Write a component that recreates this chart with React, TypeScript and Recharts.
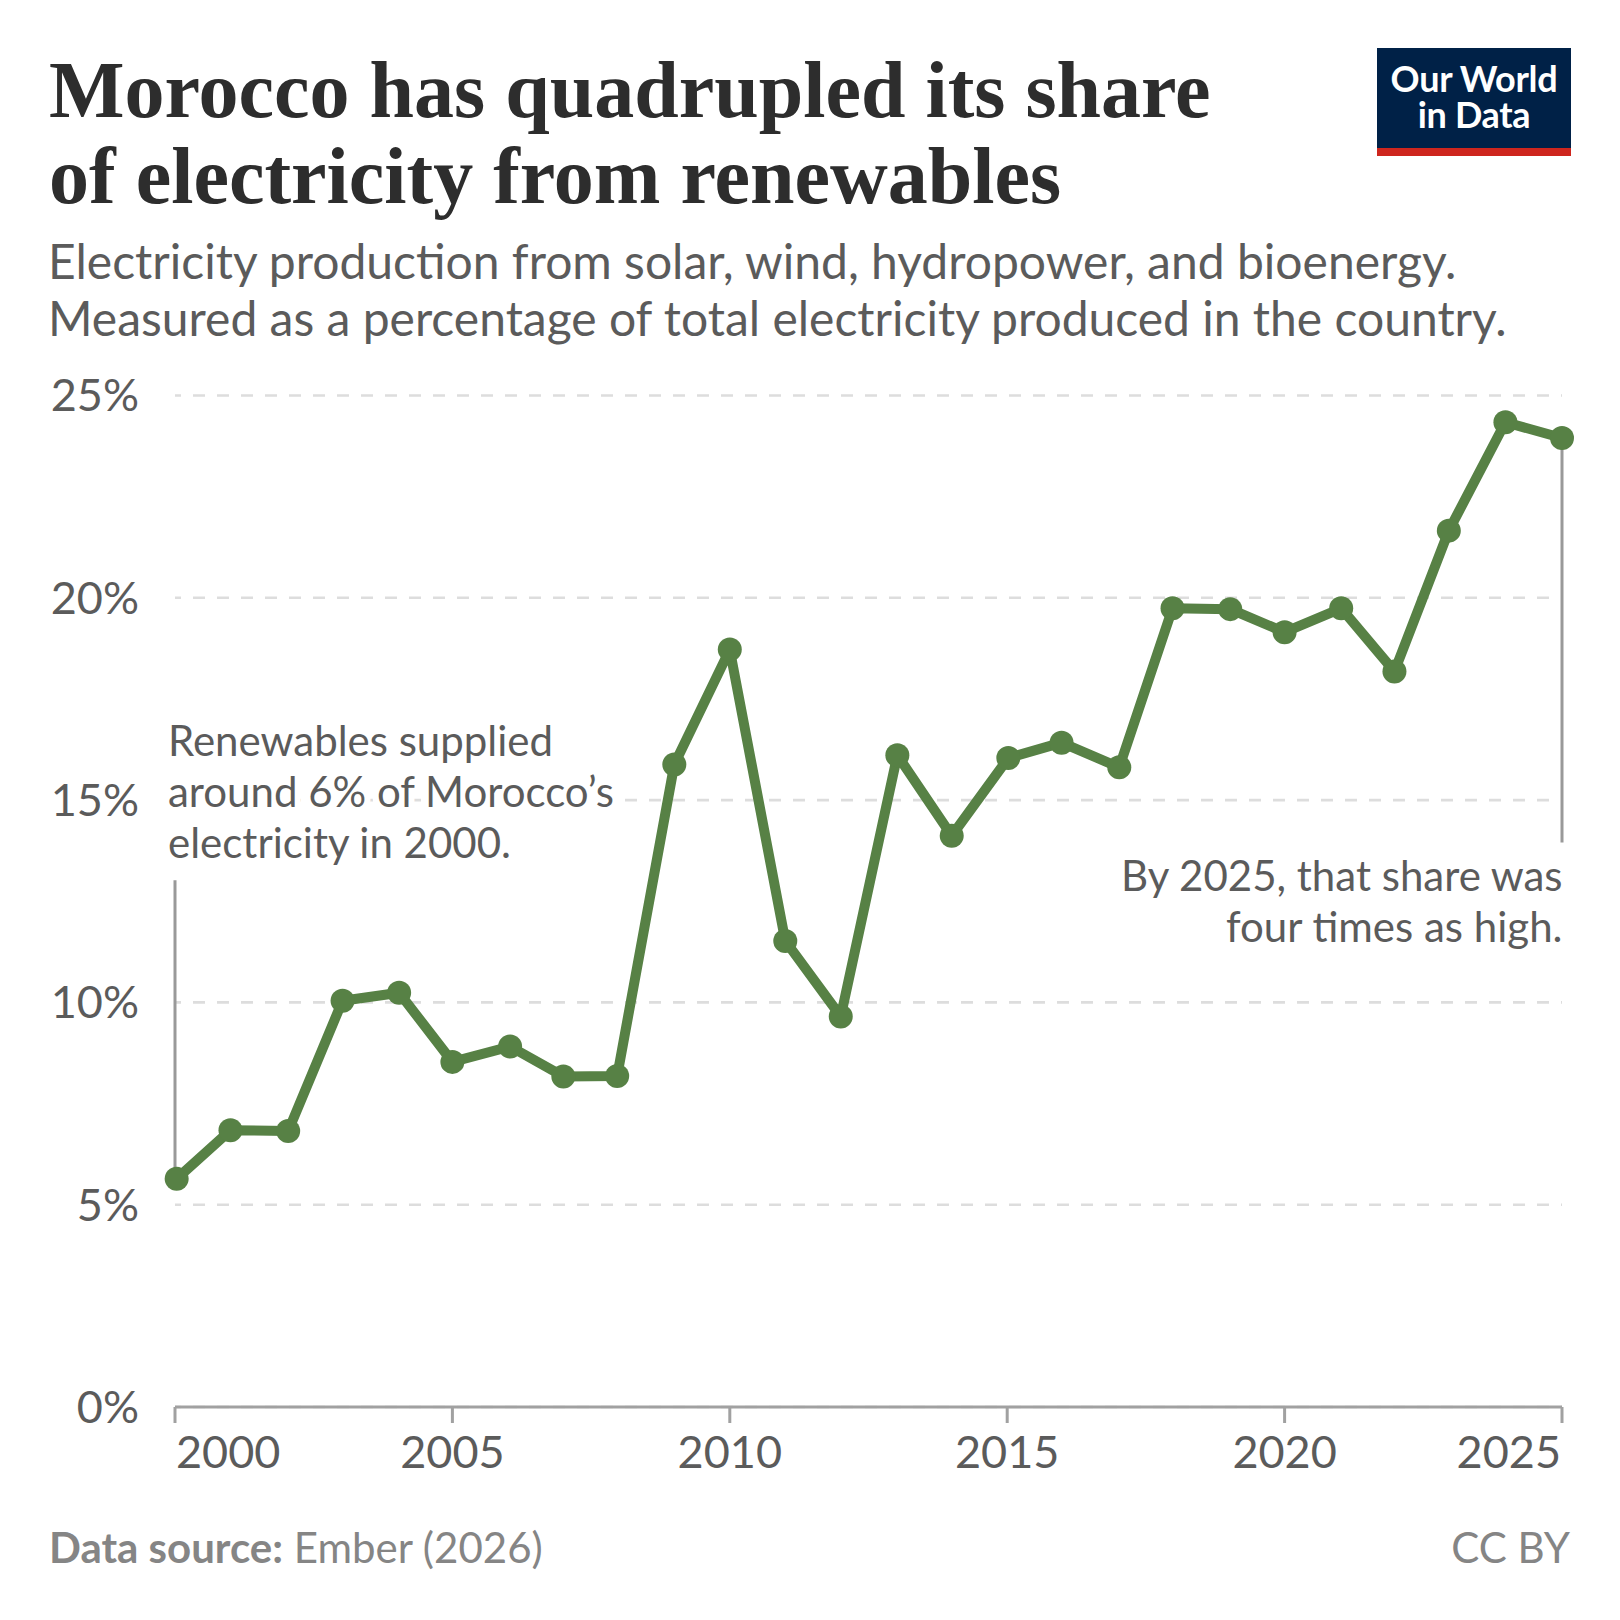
import { LineChart, Line, XAxis, YAxis, CartesianGrid, ReferenceLine } from "recharts";

// dots sit slightly off the whole years in the original, dates are not evenly spaced
const years = [
  2000.03, 2001, 2002.04, 2003.02, 2004.04, 2005, 2006.04, 2007, 2007.97, 2009, 2010, 2011, 2012,
  2013.02, 2014, 2015.02, 2015.98, 2017.02, 2017.98, 2019.02, 2020, 2021.02, 2021.98, 2022.96, 2023.98, 2025,
];
const shares = [
  5.64, 6.84, 6.82, 10.04, 10.24, 8.53, 8.91, 8.17, 8.18, 15.88, 18.72, 11.52, 9.65,
  16.11, 14.12, 16.04, 16.42, 15.81, 19.74, 19.72, 19.15, 19.74, 18.18, 21.66, 24.34, 23.95,
];
const yearTicks = [2000, 2005, 2010, 2015, 2020, 2025];
const shareTicks = [0, 5, 10, 15, 20, 25];
const titleLines = ["Morocco has quadrupled its share", "of electricity from renewables"];
const subtitleLines = [
  "Electricity production from solar, wind, hydropower, and bioenergy.",
  "Measured as a percentage of total electricity produced in the country.",
];
const leftNote = ["Renewables supplied", "around 6% of Morocco’s", "electricity in 2000."];
const rightNote = ["By 2025, that share was", "four times as high."];

const rows = years.map((year, i) => ({ year, share: shares[i] }));

const SANS = "Lato, sans-serif";
const SERIF = "'Liberation Serif', serif";
const GREEN = "#578145";
const TEXT = "#5b5b5b";

// first and last year labels sit inside the axis ends, like OWID does it
function YearTick({ x, payload }: any) {
  const v = payload.value;
  const anchor = v === 2000 ? "start" : v === 2025 ? "end" : "middle";
  const dx = v === 2000 ? 1 : v === 2025 ? -1 : 0;
  return (
    <text x={x + dx} y={1468} textAnchor={anchor} fontFamily={SANS} fontSize={45} fill={TEXT}>
      {v}
    </text>
  );
}

// white halo knocks the gridlines out behind the annotations
const noteStyle = { paintOrder: "stroke" as const, stroke: "#fff", strokeWidth: 12, strokeLinejoin: "round" as const };

export default function App() {
  return (
    <div style={{ position: "absolute", left: 0, top: 0, width: 1620, height: 1620, background: "#fff" }}>
      <LineChart
        width={1620}
        height={1620}
        data={rows}
        margin={{ top: 395.5, right: 58, bottom: 0, left: 0 }}
      >
        <CartesianGrid
          vertical={false}
          stroke="#dddddd"
          strokeWidth={2.6}
          strokeDasharray="12 12"
          strokeDashoffset={6}
        />
        <XAxis
          dataKey="year"
          type="number"
          domain={[2000, 2025]}
          ticks={yearTicks}
          interval={0}
          stroke="#a1a1a1"
          strokeWidth={3}
          tickSize={16}
          tick={<YearTick />}
          height={213}
        />
        <YAxis
          type="number"
          domain={[0, 25]}
          ticks={shareTicks}
          tickFormatter={(v) => `${v}%`}
          axisLine={false}
          tickLine={false}
          width={175}
          tickMargin={30}
          tick={{ fontSize: 45, fill: TEXT, fontFamily: SANS }}
        />
        <ReferenceLine
          segment={[{ x: 2000, y: 13.02 }, { x: 2000, y: 5.64 }]}
          stroke="#999999"
          strokeWidth={3}
        />
        <ReferenceLine
          segment={[{ x: 2025, y: 23.95 }, { x: 2025, y: 13.95 }]}
          stroke="#999999"
          strokeWidth={3}
        />
        <Line
          dataKey="share"
          type="linear"
          stroke={GREEN}
          strokeWidth={10}
          strokeLinejoin="round"
          dot={{ r: 12, fill: GREEN, stroke: GREEN, strokeWidth: 0 }}
          isAnimationActive={false}
        />

        {titleLines.map((t, i) => (
          <text key={t} x={49} y={116.5 + i * 86.5} fontFamily={SERIF} fontWeight={700} fontSize={80} fill="#2d2d2d">
            {t}
          </text>
        ))}
        {subtitleLines.map((t, i) => (
          <text key={t} x={48} y={279 + i * 57} fontFamily={SANS} fontSize={48} fill={TEXT}>
            {t}
          </text>
        ))}
        {leftNote.map((t, i) => (
          <text key={t} x={168} y={756 + i * 51} fontFamily={SANS} fontSize={42} fill={TEXT} style={noteStyle}>
            {t}
          </text>
        ))}
        {rightNote.map((t, i) => (
          <text key={t} x={1562.5} y={891 + i * 51} textAnchor="end" fontFamily={SANS} fontSize={42} fill={TEXT} style={noteStyle}>
            {t}
          </text>
        ))}

        <rect x={1377} y={48} width={194} height={108} fill="#002147" />
        <rect x={1377} y={148} width={194} height={8} fill="#ce261e" />
        <text x={1474} y={92} textAnchor="middle" fontFamily={SANS} fontWeight={700} fontSize={36} letterSpacing={-0.3} fill="#fff">
          Our World
        </text>
        <text x={1474} y={128} textAnchor="middle" fontFamily={SANS} fontWeight={700} fontSize={36} letterSpacing={-0.3} fill="#fff">
          in Data
        </text>

        <text x={49} y={1563} fontFamily={SANS} fontSize={42} fill="#858585">
          <tspan fontWeight={700}>Data source:</tspan> Ember (2026)
        </text>
        <text x={1570} y={1563} textAnchor="end" fontFamily={SANS} fontSize={42} fill="#858585">
          CC BY
        </text>
      </LineChart>
    </div>
  );
}
